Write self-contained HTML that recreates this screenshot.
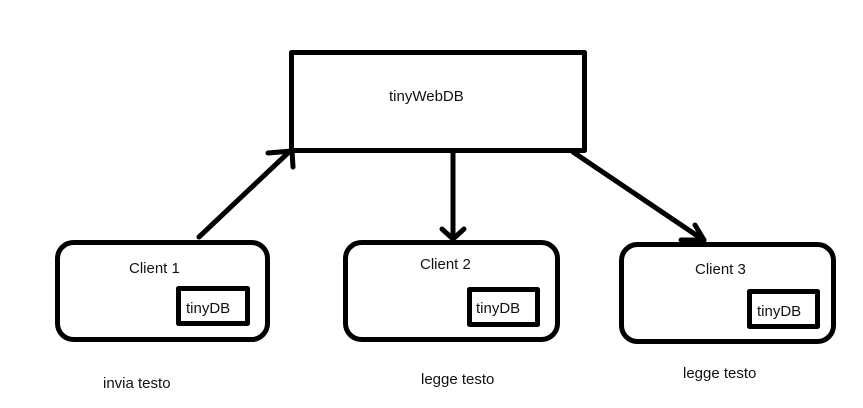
<!DOCTYPE html>
<html><head><meta charset="utf-8"><style>
html,body{margin:0;padding:0;background:#fff;width:863px;height:408px;overflow:hidden}
svg text{font-family:"Liberation Sans",sans-serif;font-size:15px;fill:#111}
</style></head><body>
<svg width="863" height="408" viewBox="0 0 863 408" xmlns="http://www.w3.org/2000/svg">
<g fill="none" stroke="#000" stroke-width="5" stroke-linecap="round" stroke-linejoin="round">
<rect x="291.5" y="52.5" width="293" height="98"/>
<rect x="57.5" y="242.5" width="210" height="97" rx="16"/>
<rect x="345.5" y="242.5" width="212" height="97" rx="16"/>
<rect x="621.5" y="244.5" width="212" height="97" rx="16"/>
<rect x="178.5" y="288.5" width="69" height="35"/>
<rect x="469.5" y="289.5" width="68" height="35"/>
<rect x="749.5" y="291.5" width="68" height="35"/>
<line x1="199" y1="237" x2="290" y2="151"/>
<line x1="268" y1="153" x2="292" y2="151"/>
<line x1="292" y1="151" x2="293" y2="167"/>
<line x1="453" y1="153" x2="453" y2="238"/>
<line x1="442" y1="229" x2="453" y2="239"/>
<line x1="464" y1="229" x2="453" y2="239"/>
<line x1="573" y1="152" x2="702" y2="239"/>
<line x1="681" y1="240" x2="704" y2="240"/>
<line x1="695" y1="225" x2="704" y2="240"/>
</g>
<text x="389" y="101">tinyWebDB</text>
<text x="129" y="273">Client 1</text>
<text x="420" y="269">Client 2</text>
<text x="695" y="274">Client 3</text>
<text x="186" y="313">tinyDB</text>
<text x="476" y="313">tinyDB</text>
<text x="757" y="316">tinyDB</text>
<text x="103" y="388">invia testo</text>
<text x="421" y="384">legge testo</text>
<text x="683" y="378">legge testo</text>
</svg>
</body></html>
